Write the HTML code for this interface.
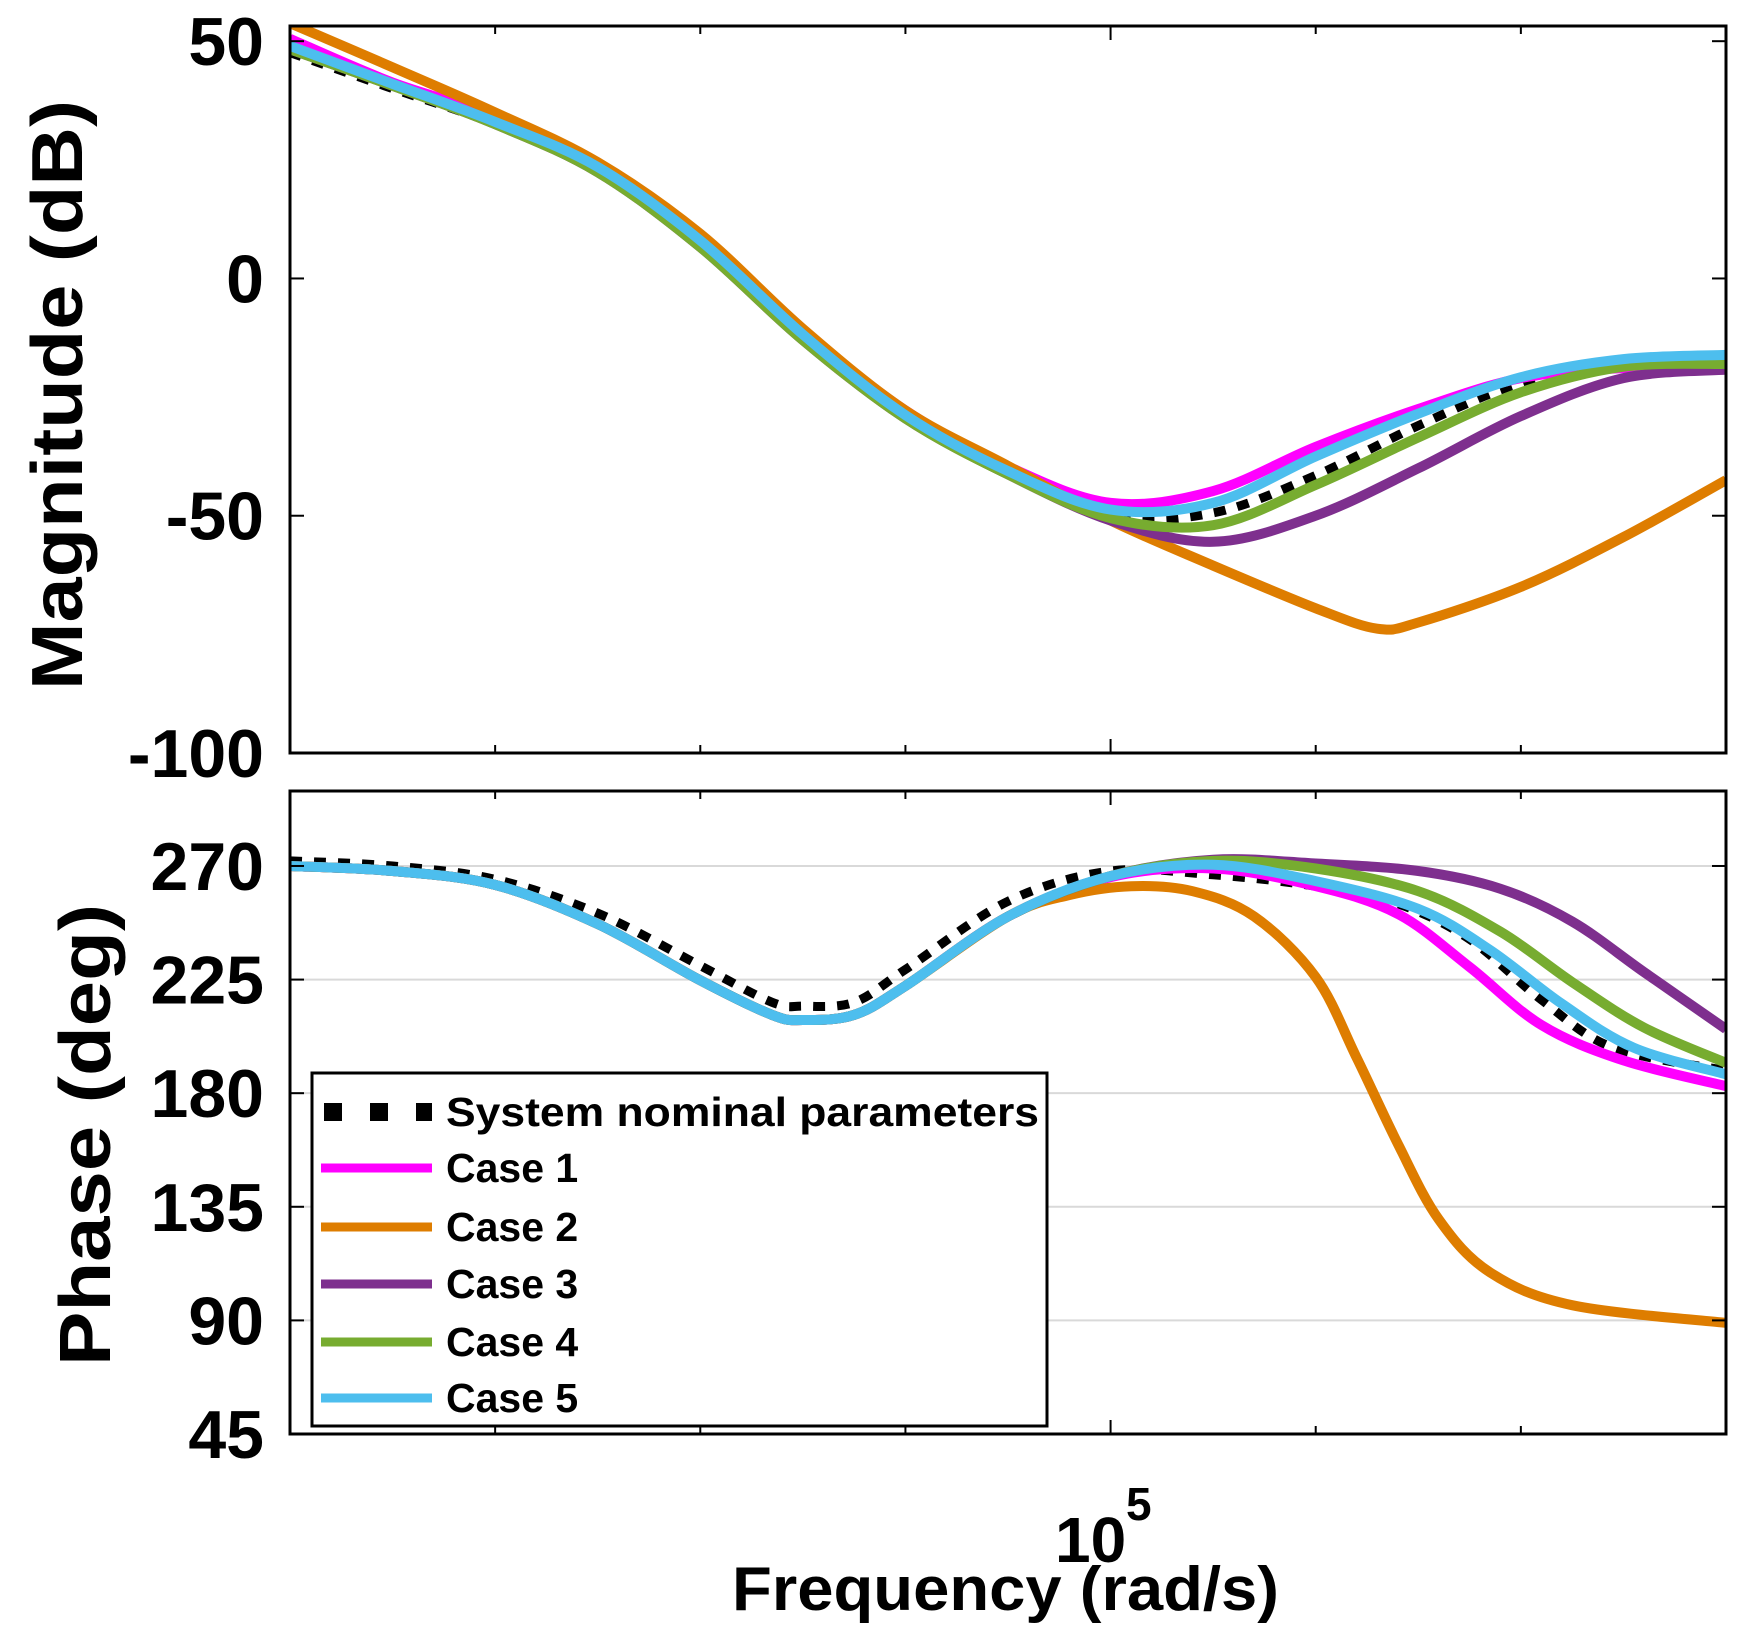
<!DOCTYPE html>
<html><head><meta charset="utf-8"><style>
html,body{margin:0;padding:0;background:#fff;}
svg{display:block;font-family:"Liberation Sans",Arial,sans-serif;font-weight:bold;}
</style></head><body>
<svg id="chart" width="1757" height="1639" viewBox="0 0 1757 1639" xmlns="http://www.w3.org/2000/svg">
<rect width="1757" height="1639" fill="#fff"/>
<g id="grid"></g>
<g id="series"></g>
<g id="axes"></g>
<g id="legend"></g>
<text transform="translate(82,395) rotate(-90)" text-anchor="middle" font-size="72" textLength="590" lengthAdjust="spacingAndGlyphs">Magnitude (dB)</text>
<text transform="translate(110,1135) rotate(-90)" text-anchor="middle" font-size="72" textLength="462" lengthAdjust="spacingAndGlyphs">Phase (deg)</text>
<text x="1055" y="1562" font-size="64">10</text>
<text x="1126" y="1520" font-size="46">5</text>
<text x="732" y="1610" font-size="62" textLength="547" lengthAdjust="spacingAndGlyphs">Frequency  (rad/s)</text>
</svg>
<script>
// ---- data ----
const magFreq = [4.2,4.3,4.4,4.5,4.6,4.7,4.8,4.9,5.0,5.1,5.2,5.3,5.4,5.5,5.6];
const magNominal = [47.6,40,32.5,22.4,7.1,-11.8,-28.3,-40.1,-50,-49.4,-41.5,-31,-22,-17.5,-16.5];
const magCase1 = [50.5,41.3,34.2,24,9,-11,-27.8,-39.6,-47.3,-44.8,-35.5,-27.5,-21,-18.9,-19.2];
const magCase3 = [48.3,40.6,32.5,22.4,6.6,-13,-29.5,-41.3,-51,-55.5,-50,-40,-29,-21,-19.2];
const magCase4 = [48.3,40.6,32.5,22.4,6.6,-13,-29.5,-41.3,-50.5,-52,-43.5,-33.5,-24,-18.6,-18];
const magCase5 = [49,41,33,23.5,8,-11.8,-28.8,-40.6,-48.7,-47.3,-37.5,-28.5,-20.8,-17,-16.1];
const magFreqCase2 = [4.2,4.3,4.4,4.5,4.6,4.7,4.8,4.9,5.0,5.1,5.2,5.26,5.3,5.4,5.5,5.6];
const magCase2 = [53.8,44.5,35,24.5,9.4,-10.6,-27.8,-39.5,-51,-60.5,-69.5,-73.8,-72.5,-65,-54.5,-42.5];

const phFreqNominal = [4.2,4.3,4.4,4.5,4.6,4.67,4.7,4.75,4.8,4.9,5.0,5.1,5.2,5.28,5.35,5.42,5.49,5.6];
const phNominal = [272,270,264.7,251.3,230.5,216,214.5,216,229,256,268,266.5,262,255,241,217,198,189];
const phFreqCase1 = [4.2,4.3,4.4,4.5,4.6,4.67,4.7,4.75,4.8,4.9,5.0,5.1,5.2,5.28,5.35,5.42,5.5,5.6];
const phCase1 = [270,268,262.5,247,224.7,211,209,211,222.5,250,265.6,269,262,251,230,207,193,182.8];
const phFreqCase2 = [4.2,4.3,4.4,4.5,4.6,4.67,4.7,4.75,4.8,4.9,4.96,5.02,5.08,5.14,5.2,5.24,5.28,5.32,5.37,5.45,5.6];
const phCase2 = [270,268,262.5,247,224.7,211,209,211,222.5,250,258.5,262,260,250,226,194,160,130,109,96,89];
const phFreqCase3 = [4.2,4.3,4.4,4.5,4.6,4.67,4.7,4.75,4.8,4.9,5.0,5.1,5.2,5.3,5.38,5.45,5.52,5.6];
const phCase3 = [270,268,262.5,247,224.7,211,209,211,222.5,250,266,272.5,271,268,261,248,228,205.4];
const phFreqCase4 = [4.2,4.3,4.4,4.5,4.6,4.67,4.7,4.75,4.8,4.9,5.0,5.1,5.2,5.3,5.38,5.45,5.52,5.6];
const phCase4 = [270,268,262.5,247,224.7,211,209,211,222.5,250,266,272,269,260,244,224,206,192];
const phFreqCase5 = [4.2,4.3,4.4,4.5,4.6,4.67,4.7,4.75,4.8,4.9,5.0,5.1,5.2,5.3,5.37,5.44,5.51,5.6];
const phCase5 = [270,268,262.5,247,224.7,211,209,211,222.5,250,266,270.5,264,253,236.7,215.4,198,187.5];

const magTicks = [50,0,-50,-100];
const magTickLabels = ["50","0","-50","-100"];
const phTicks = [270,225,180,135,90,45];
const phTickLabels = ["270","225","180","135","90","45"];
const xTicks = [4.4,4.6,4.8,5.0,5.2,5.4];
const legendLabels = ["System nominal parameters","Case 1","Case 2","Case 3","Case 4","Case 5"];

// ---- layout / scales ----
const NS="http://www.w3.org/2000/svg";
const L=290,R=1726;
const magTop=26,magBot=753,phTop=791,phBot=1434;
const xMin=4.2,xMax=5.6;
const magMin=-100,magMax=53.2,phMin=45,phMax=299.7;
function X(lw){return L+(lw-xMin)/(xMax-xMin)*(R-L);}
function YM(v){return magBot-(v-magMin)/(magMax-magMin)*(magBot-magTop);}
function YP(v){return phBot-(v-phMin)/(phMax-phMin)*(phBot-phTop);}
function mk(tag,attrs,parent){const e=document.createElementNS(NS,tag);for(const k in attrs)e.setAttribute(k,attrs[k]);parent.appendChild(e);return e;}
function smoothPath(xs,ys){
  const p=xs.map((x,i)=>[x,ys[i]]);
  let d="M"+p[0][0].toFixed(1)+","+p[0][1].toFixed(1);
  for(let i=0;i<p.length-1;i++){
    const p0=p[i-1]||p[i],p1=p[i],p2=p[i+1],p3=p[i+2]||p2;
    const c1=[p1[0]+(p2[0]-p0[0])/6,p1[1]+(p2[1]-p0[1])/6];
    const c2=[p2[0]-(p3[0]-p1[0])/6,p2[1]-(p3[1]-p1[1])/6];
    d+=" C"+c1[0].toFixed(1)+","+c1[1].toFixed(1)+" "+c2[0].toFixed(1)+","+c2[1].toFixed(1)+" "+p2[0].toFixed(1)+","+p2[1].toFixed(1);
  }
  return d;
}
const grid=document.getElementById('grid'),ser=document.getElementById('series'),axes=document.getElementById('axes'),leg=document.getElementById('legend');

phTicks.forEach(v=>{
  if(v<=phMin)return;
  const g=mk('line',{x1:L,x2:R,y1:YP(v),y2:YP(v),stroke:'#d9d9d9','stroke-width':2},grid);
  
  
});

const colors={nominal:'#000',c1:'#FF00FF',c2:'#DE7D00',c3:'#7E2F8E',c4:'#77AC30',c5:'#4DBEEE'};
const magSeries=[
  ['mag-nominal',magFreq,magNominal,colors.nominal,true],
  ['mag-case-1',magFreq,magCase1,colors.c1,false],
  ['mag-case-2',magFreqCase2,magCase2,colors.c2,false],
  ['mag-case-3',magFreq,magCase3,colors.c3,false],
  ['mag-case-4',magFreq,magCase4,colors.c4,false],
  ['mag-case-5',magFreq,magCase5,colors.c5,false]];
const phSeries=[
  ['phase-nominal',phFreqNominal,phNominal,colors.nominal,true],
  ['phase-case-1',phFreqCase1,phCase1,colors.c1,false],
  ['phase-case-2',phFreqCase2,phCase2,colors.c2,false],
  ['phase-case-3',phFreqCase3,phCase3,colors.c3,false],
  ['phase-case-4',phFreqCase4,phCase4,colors.c4,false],
  ['phase-case-5',phFreqCase5,phCase5,colors.c5,false]];
const defs=mk('defs',{},ser);
const cm=mk('clipPath',{id:'cm'},defs);mk('rect',{x:L,y:magTop,width:R-L,height:magBot-magTop},cm);
const cp=mk('clipPath',{id:'cp'},defs);mk('rect',{x:L,y:phTop,width:R-L,height:phBot-phTop},cp);
function draw(list,Y,clip){
  list.forEach(s=>{
    const a={d:smoothPath(s[1].map(X),s[2].map(Y)),fill:'none',stroke:s[3],'stroke-width':10,'clip-path':'url(#'+clip+')','stroke-linejoin':'round'};
    if(s[4]){a['stroke-dasharray']='12 12';a['stroke-width']=9;}
    const p=mk('path',a,ser);
    
    
  });
}
draw(magSeries,YM,'cm');draw(phSeries,YP,'cp');

[[magTop,magBot,'magnitude-axes'],[phTop,phBot,'phase-axes']].forEach(a=>{
  const r=mk('rect',{x:L,y:a[0],width:R-L,height:a[1]-a[0],fill:'none',stroke:'#000','stroke-width':3},axes);
  
  
  xTicks.forEach(t=>{
    const len=Math.abs(t-5)<1e-9?14:8;
    mk('line',{x1:X(t),x2:X(t),y1:a[1],y2:a[1]-len,stroke:'#000','stroke-width':2},axes);
    mk('line',{x1:X(t),x2:X(t),y1:a[0],y2:a[0]+len,stroke:'#000','stroke-width':2},axes);
  });
});
magTicks.forEach((v,i)=>{
  mk('line',{x1:L,x2:L+14,y1:YM(v),y2:YM(v),stroke:'#000','stroke-width':2},axes);
  mk('line',{x1:R,x2:R-14,y1:YM(v),y2:YM(v),stroke:'#000','stroke-width':2},axes);
  const t=mk('text',{x:264,y:YM(v)+24,'text-anchor':'end','font-size':68},axes);
  t.textContent=magTickLabels[i];
  
  
});
phTicks.forEach((v,i)=>{
  mk('line',{x1:L,x2:L+14,y1:YP(v),y2:YP(v),stroke:'#000','stroke-width':2},axes);
  mk('line',{x1:R,x2:R-14,y1:YP(v),y2:YP(v),stroke:'#000','stroke-width':2},axes);
  const t=mk('text',{x:264,y:YP(v)+24,'text-anchor':'end','font-size':68},axes);
  t.textContent=phTickLabels[i];
  
  
});

const lb=mk('rect',{x:312,y:1073,width:735,height:353,fill:'#fff',stroke:'#000','stroke-width':3},leg);


const legColors=[colors.nominal,colors.c1,colors.c2,colors.c3,colors.c4,colors.c5];
const legY=[1112,1168,1227,1284,1342,1398];
legendLabels.forEach((lab,i)=>{
  const a={x1:321,x2:432,y1:legY[i],y2:legY[i],stroke:legColors[i],'stroke-width':9};
  if(i===0){a['stroke-dasharray']='18 28';a['stroke-width']=18;a.x1=324;}
  const ln=mk('line',a,leg);
  
  
  const t=mk('text',{x:446,y:legY[i]+14,'font-size':41},leg);
  if(i===0){t.setAttribute('textLength',593);t.setAttribute('lengthAdjust','spacingAndGlyphs');}
  t.textContent=lab;
  
  
});
</script>
</body></html>
